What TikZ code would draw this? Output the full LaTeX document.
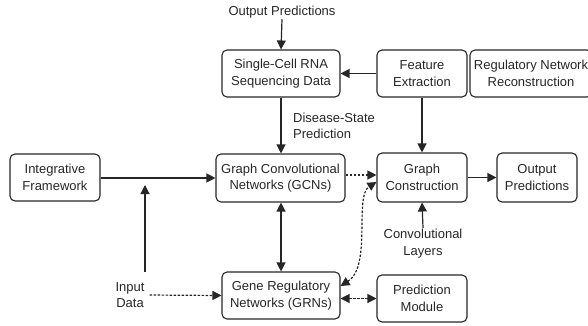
\documentclass[tikz,border=0pt]{standalone}
\usepackage{fontspec}
\setmainfont{Liberation Sans}
\usetikzlibrary{arrows.meta}
\begin{document}
\begin{tikzpicture}[x=1pt,y=-1pt,
  every node/.style={font=\fontsize{13}{16.5}\selectfont, text=black!85},
  box/.style={draw=black!85, line width=1.1pt, rounded corners=5pt, align=center,
    inner sep=0pt},
  lbl/.style={align=center, inner sep=1pt},
  conn/.style={draw=black!85, line width=1.2pt,
    arrows={-Triangle[length=9pt,width=9pt]}},
  bconn/.style={conn,
    arrows={Triangle[length=9pt,width=9pt]-Triangle[length=9pt,width=9pt]}},
  dconn/.style={conn, dash pattern=on 2.4pt off 1.6pt},
  ddconn/.style={bconn, dash pattern=on 2.4pt off 1.6pt}]
\useasboundingbox (0,0) rectangle (588,326);
\clip (0,0) rectangle (588,326);

% boxes
\node[box, minimum width=118pt, minimum height=47pt] (scrna) at (281,73.5) {Single-Cell RNA\\Sequencing Data};
\node[box, minimum width=90pt, minimum height=47pt] (feat) at (422,73.5) {Feature\\Extraction};
\node[box, minimum width=122pt, minimum height=47pt] (regrec) at (531,73.5) {Regulatory Network\\Reconstruction};
\node[box, minimum width=90pt, minimum height=47pt] (integ) at (55,177.5) {Integrative\\Framework};
\node[box, minimum width=129pt, minimum height=48pt] (gcn) at (280.5,178) {Graph Convolutional\\Networks (GCNs)};
\node[box, minimum width=90pt, minimum height=49pt] (gc) at (422,177.5) {Graph\\Construction};
\node[box, minimum width=80pt, minimum height=49pt] (outp) at (537,177.5) {Output\\Predictions};
\node[box, minimum width=118pt, minimum height=47pt] (grn) at (281,295.5) {Gene Regulatory\\Networks (GRNs)};
\node[box, minimum width=90pt, minimum height=47pt] (pm) at (422,298.5) {Prediction\\Module};

% free labels
\node[lbl] (outtop) at (282,12) {Output Predictions};
\node[lbl, align=left, anchor=west] (dsp) at (292,126) {Disease-State\\Prediction};
\node[lbl] (convl) at (423,243.5) {Convolutional\\Layers};
\node[lbl] (indata) at (130,295) {Input\\Data};

\coordinate (inbase) at (145,272);
\coordinate (intip) at (145,185);

% connectors
\draw[conn] (outtop.south) -- (scrna.north);
\draw[conn] (scrna.south) -- (scrna.south |- gcn.north);
\draw[conn] (feat.west) -- (scrna.east);
\draw[conn] (feat.south) -- (gc.north);
\draw[conn] (integ.east |- gcn.west) -- (gcn.west);
\draw[conn] (inbase) -- (intip);
\draw[bconn] (gcn.south -| scrna.south) -- (grn.north);
\draw[dconn] (gcn.east |- 0,175) -- (gc.west |- 0,175);
\draw[conn] (gc.east) -- (outp.west);
\draw[conn] (convl.north) -- (gc.south);
\draw[dconn, shorten <=4pt] (indata.east) -- (grn.west);
\draw[ddconn] (grn.east |- 0,286) .. controls (372,266) and (354,196) .. (gc.west |- 0,182);
\draw[ddconn] (grn.east |- pm.west) -- (pm.west);
\end{tikzpicture}
\end{document}
